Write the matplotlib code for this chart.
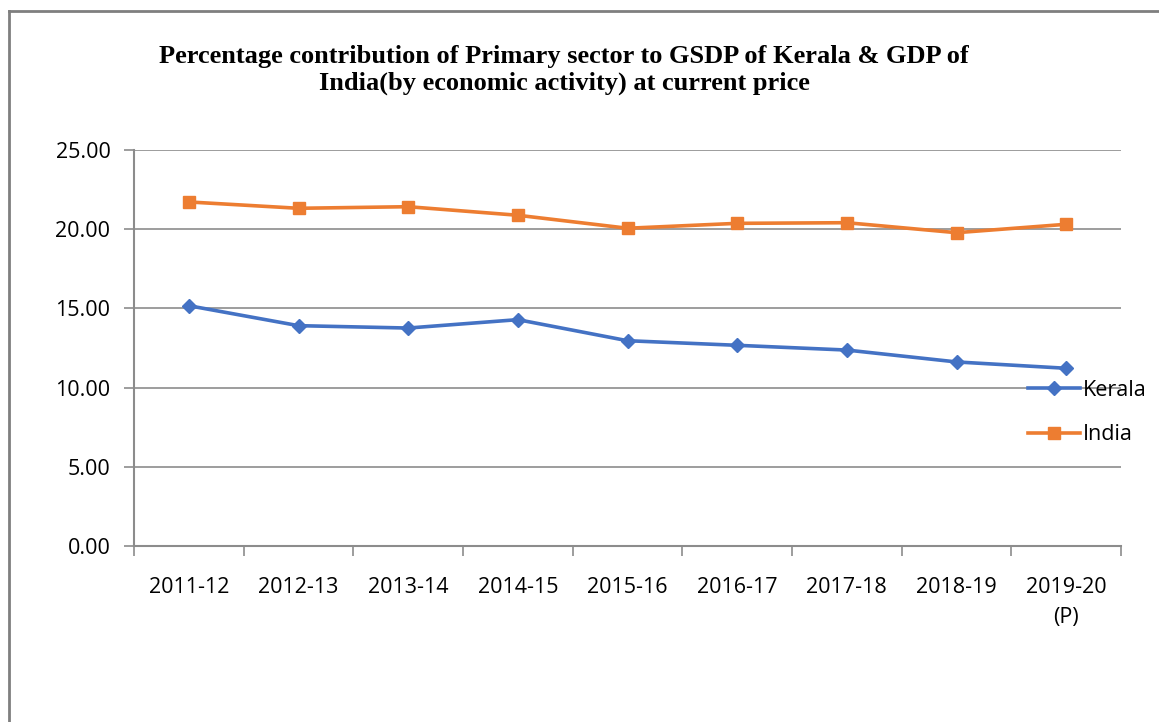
import matplotlib.pyplot as plt
from matplotlib.lines import Line2D

years = ["2011-12", "2012-13", "2013-14", "2014-15", "2015-16",
         "2016-17", "2017-18", "2018-19", "2019-20\n(P)"]
kerala = [15.17, 13.91, 13.76, 14.29, 12.96, 12.67, 12.37, 11.62, 11.22]
india = [21.72, 21.32, 21.42, 20.88, 20.06, 20.37, 20.41, 19.78, 20.31]
yticks = [0, 5, 10, 15, 20, 25]

BLUE = "#4472C4"
ORANGE = "#ED7D31"
GRID = "#8c8c8c"
TICKFONT = "Open Sans"
FS = 15.5

fig = plt.figure(figsize=(11.59, 7.22), dpi=100)

# outer frame (only left/top edges visible in the crop)
fig.add_artist(Line2D([9 / 1159, 9 / 1159], [0, 1 - 11 / 722],
                      transform=fig.transFigure, color="#7f7f7f", lw=2))
fig.add_artist(Line2D([9 / 1159, 1], [1 - 11 / 722, 1 - 11 / 722],
                      transform=fig.transFigure, color="#7f7f7f", lw=2))

ax = fig.add_axes([134 / 1159, 1 - 546 / 722, 987 / 1159, 396 / 722])

x = list(range(len(years)))
ax.plot(x, kerala, color=BLUE, lw=2.6, marker="D", ms=7.5, label="Kerala",
        zorder=3)
ax.plot(x, india, color=ORANGE, lw=2.6, marker="s", ms=9, label="India",
        zorder=3)

ax.set_xlim(-0.5, len(years) - 0.5)
ax.set_ylim(0, 25)
ax.set_yticks(yticks)
ax.set_yticklabels([f"{v:.2f}" for v in yticks], fontsize=FS,
                   family=TICKFONT)
ax.set_xticks(x)
ax.set_xticklabels(years, fontsize=FS, family=TICKFONT, linespacing=1.6,
                   va="top")
ax.set_xticks([i - 0.5 for i in range(len(years) + 1)], minor=True)
ax.tick_params(axis="x", which="major", length=0, pad=22)
ax.tick_params(axis="x", which="minor", length=7, color=GRID, width=1.2)
ax.tick_params(axis="y", length=7, color=GRID, width=1.2, pad=10)

ax.grid(axis="y", color=GRID, lw=1.2)
for s in ["top", "right"]:
    ax.spines[s].set_visible(False)
ax.spines["left"].set_color(GRID)
ax.spines["bottom"].set_color(GRID)
ax.spines["left"].set_linewidth(1.5)
ax.spines["bottom"].set_linewidth(1.5)

leg = ax.legend(loc="upper left", bbox_to_anchor=(885 / 987, 175 / 396),
                frameon=False, prop={"family": TICKFONT, "size": FS},
                handlelength=2.45, handletextpad=0.1, labelspacing=1.1,
                borderaxespad=0)

fig.text(564 / 1159, 1 - 70 / 722,
         "Percentage contribution of Primary sector to GSDP of Kerala & GDP of\n"
         "India(by economic activity) at current price",
         ha="center", va="center", family="Liberation Serif",
         fontweight="bold", fontsize=19, linespacing=1.15)

fig.savefig("out.png", dpi=100)
